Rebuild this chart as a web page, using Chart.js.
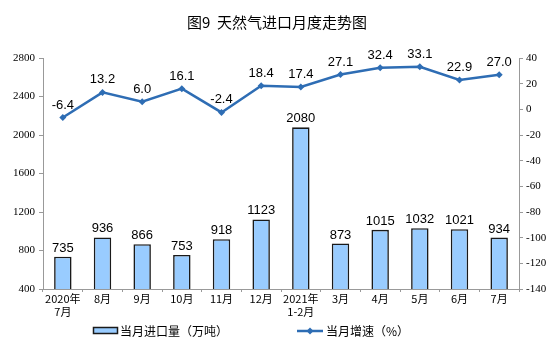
<!DOCTYPE html>
<html><head><meta charset="utf-8">
<script src="https://cdn.jsdelivr.net/npm/chart.js@4.4.0/dist/chart.umd.min.js"></script>
<style>html,body{margin:0;padding:0;background:#fff;}canvas{display:block;}</style>
</head><body>
<canvas id="c" width="554" height="353"></canvas>
<script>
const categories = [["2020年","7月"],"8月","9月","10月","11月","12月",["2021年","1-2月"],"3月","4月","5月","6月","7月"];
const importVolume = [735,936,866,753,918,1123,2080,873,1015,1032,1021,934];
const growthRate = [-6.4,13.2,6.0,16.1,-2.4,18.4,17.4,27.1,32.4,33.1,22.9,27.0];
const leftTicks = [400,800,1200,1600,2000,2400,2800];
const rightTicks = [-140,-120,-100,-80,-60,-40,-20,0,20,40];
const titleText = '图9  天然气进口月度走势图';
const legendBar = '当月进口量（万吨）';
const legendLine = '当月增速（%）';
const lineColor = '#2E6DB4';
const barColor = '#99CCFF';

const labelPlugin = {
  id:'labels',
  afterDatasetsDraw(chart){
    const ctx = chart.ctx;
    ctx.save();
    ctx.font = '13px "Liberation Sans", Arial, sans-serif';
    ctx.fillStyle = '#000';
    ctx.textAlign = 'center';
    ctx.textBaseline = 'bottom';
    chart.getDatasetMeta(0).data.forEach((el,i)=>{
      ctx.fillText(String(importVolume[i]), el.x, el.y - 2);
    });
    chart.getDatasetMeta(1).data.forEach((el,i)=>{
      ctx.fillText(growthRate[i].toFixed(1), el.x, el.y - 6);
    });
    ctx.font = '15px "Noto Sans CJK SC", sans-serif';
    ctx.textBaseline = 'middle';
    ctx.fillText(titleText, 277, 22);
    ctx.font = '12px "Noto Sans CJK SC", sans-serif';
    ctx.textAlign = 'left';
    ctx.fillStyle = barColor; ctx.fillRect(93,327,25,7);
    ctx.strokeStyle = '#1a1a1a'; ctx.lineWidth = 1.5; ctx.strokeRect(93.5,327.5,24,6);
    ctx.fillStyle = '#000'; ctx.fillText(legendBar, 120, 331);
    ctx.strokeStyle = lineColor; ctx.lineWidth = 2.5;
    ctx.beginPath(); ctx.moveTo(297,331); ctx.lineTo(323,331); ctx.stroke();
    ctx.fillStyle = lineColor;
    ctx.beginPath(); ctx.moveTo(310,327.5); ctx.lineTo(313.5,331); ctx.lineTo(310,334.5); ctx.lineTo(306.5,331); ctx.closePath(); ctx.fill();
    ctx.fillStyle = '#000'; ctx.fillText(legendLine, 326, 331);
    ctx.restore();
  }
};

new Chart(document.getElementById('c'), {
  data:{
    labels: categories,
    datasets:[
      {type:'bar', label:legendBar, data: importVolume, yAxisID:'y',
       backgroundColor:barColor, borderColor:'#1a1a1a', borderWidth:1.6, barPercentage:0.44, categoryPercentage:1, order:2},
      {type:'line', label:legendLine, data: growthRate, yAxisID:'y1',
       borderColor:lineColor, backgroundColor:lineColor, borderWidth:2.5, pointStyle:'rectRot', pointRadius:3.5, pointBorderWidth:0, tension:0, order:1}
    ]
  },
  options:{
    responsive:false, animation:false, devicePixelRatio:1,
    layout:{padding:{top:58,left:0,right:0,bottom:0}},
    plugins:{ title:{display:false}, legend:{display:false}, tooltip:{enabled:false} },
    scales:{
      x:{grid:{display:true, drawOnChartArea:false, drawTicks:true, tickLength:3, color:'#999', offset:true}, border:{color:'#999'},
         ticks:{color:'#000', font:{family:'"Noto Sans CJK SC", serif', size:11}, maxRotation:0, autoSkip:false, padding:0},
         afterFit(s){s.height=64;}},
      y:{position:'left', min:400, max:2800, afterBuildTicks(s){s.ticks = leftTicks.map(v=>({value:v}));},
         grid:{display:true, drawOnChartArea:false, drawTicks:true, tickLength:4, color:'#999'}, border:{color:'#999'},
         ticks:{color:'#000', font:{family:'"Liberation Serif", "Times New Roman", serif', size:11}, padding:4, callback:v=>String(v)},
         afterFit(s){s.width=43;}},
      y1:{position:'right', min:-140, max:40, afterBuildTicks(s){s.ticks = rightTicks.map(v=>({value:v}));},
         grid:{display:true, drawOnChartArea:false, drawTicks:true, tickLength:4, color:'#999'}, border:{color:'#999'},
         ticks:{color:'#000', font:{family:'"Liberation Serif", "Times New Roman", serif', size:11}, padding:3, callback:v=>String(v)},
         afterFit(s){s.width=35;}}
    }
  },
  plugins:[labelPlugin]
});
</script>
</body></html>
